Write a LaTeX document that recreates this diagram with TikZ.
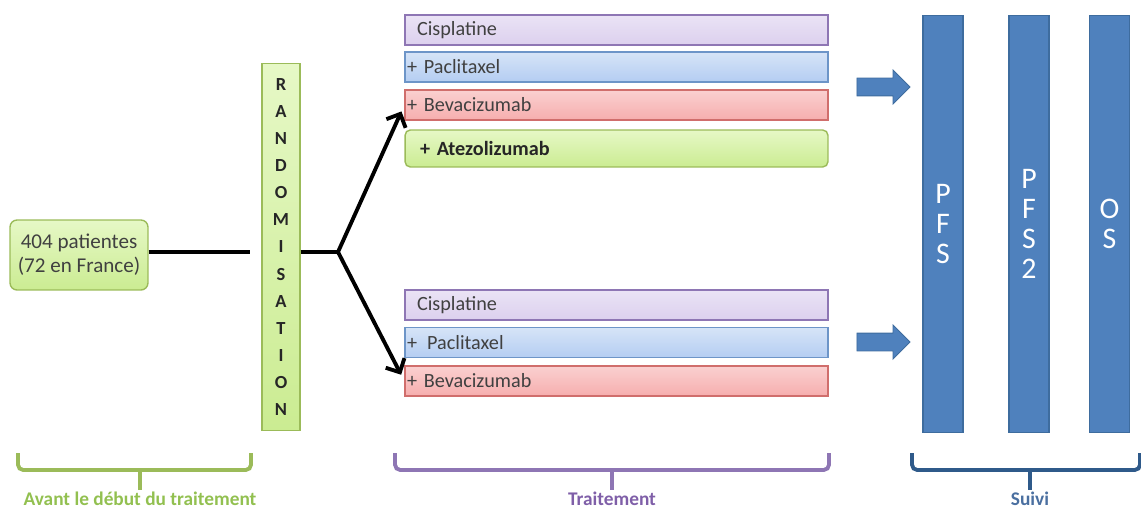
\documentclass[tikz,border=0pt]{standalone}
\usepackage{fontspec}
\setmainfont{Carlito}
\usetikzlibrary{arrows.meta,shapes.arrows}

\definecolor{vertbord}{HTML}{9BBB59}
\definecolor{verthaut}{HTML}{E6F8C6}
\definecolor{vertbas}{HTML}{CBEC92}
\definecolor{violbord}{HTML}{8E76B4}
\definecolor{violhaut}{HTML}{EAE3F5}
\definecolor{violbas}{HTML}{DCD0EE}
\definecolor{bleubord}{HTML}{6D95C8}
\definecolor{bleuhaut}{HTML}{D6E4F7}
\definecolor{bleubas}{HTML}{B4CDF2}
\definecolor{rougebord}{HTML}{D06E6C}
\definecolor{rougehaut}{HTML}{FAD0D0}
\definecolor{rougebas}{HTML}{F6AEAE}
\definecolor{barrefond}{HTML}{4F81BD}
\definecolor{barrebord}{HTML}{3E6C9E}
\definecolor{accbleu}{HTML}{2F5A8A}
\definecolor{etiqvert}{HTML}{92C050}
\definecolor{etiqviol}{HTML}{7F5FA8}
\definecolor{etiqbleu}{HTML}{4A6FA0}

\tikzset{
  patbox/.style={draw=vertbord, line width=0.8pt, rounded corners=4pt,
    top color=verthaut, bottom color=vertbas, align=center,
    minimum width=2.76cm, minimum height=1.4cm, text=black!75,
    font=\fontsize{12}{13.8}\selectfont},
  randbox/.style={draw=vertbord, line width=0.8pt,
    top color=verthaut, bottom color=vertbas, align=center,
    minimum width=0.76cm, minimum height=7.34cm, text=black!85,
    font=\bfseries\fontsize{10.5}{15.4}\selectfont},
  boite/.style={line width=0.8pt, text width=8.38cm, align=left,
    inner xsep=0.04cm, inner ysep=0pt, minimum height=0.6cm, text=black!75,
    font=\fontsize{11.5}{12}\selectfont},
  cisbox/.style={boite, draw=violbord, top color=violhaut, bottom color=violbas},
  pacbox/.style={boite, draw=bleubord, top color=bleuhaut, bottom color=bleubas},
  bevbox/.style={boite, draw=rougebord, top color=rougehaut, bottom color=rougebas},
  atzbox/.style={boite, draw=vertbord, top color=verthaut, bottom color=vertbas,
    rounded corners=3pt, minimum height=0.74cm, text=black!85},
  lien/.style={line width=2.2pt, black},
  fleche/.style={lien, -{Straight Barb[length=6pt,width=12pt]}, shorten >=4pt},
  blocfleche/.style={single arrow, draw=barrebord, fill=barrefond, line width=0.5pt,
    minimum height=1.06cm, minimum width=0.66cm, inner sep=0.17cm,
    single arrow head extend=0.16cm},
  barre/.style={draw=barrebord, fill=barrefond, line width=0.6pt,
    minimum width=0.8cm, minimum height=8.36cm, align=center, text=white,
    font=\fontsize{17}{17}\selectfont},
  accolade/.style={line width=2.2pt, rounded corners=3pt, draw=#1},
  etiq/.style={font=\bfseries\fontsize{11}{12}\selectfont, inner ysep=1pt, below=0pt},
}

\begin{document}
\begin{tikzpicture}[x=0.02cm,y=-0.02cm]
\useasboundingbox (0,0) rectangle (1141,513);

% avant le traitement
\node[patbox] (pat) at (79,255) {404 patientes\\(72 en France)};
\node[randbox] (rand) at (281,247) {R\\A\\N\\D\\O\\M\\I\\S\\A\\T\\I\\O\\N};
\coordinate (jn) at (338,252);

\draw[lien, shorten >=6.5pt] (pat.east |- jn) -- (rand.west |- jn);
\draw[lien] (rand.east |- jn) -- (jn);

% bras A
\node[cisbox] (cisA) at (616.5,30) {\hspace*{0.2cm}Cisplatine};
\node[pacbox] (pacA) at (616.5,67) {+ Paclitaxel};
\node[bevbox] (bevA) at (616.5,105) {+ Bevacizumab};
\node[atzbox] (atzA) at (616.5,148.5) {\hspace*{0.26cm}\textbf{+ Atezolizumab}};

% bras B
\node[cisbox] (cisB) at (616.5,305) {\hspace*{0.2cm}Cisplatine};
\node[pacbox] (pacB) at (616.5,342.5) {+ \,Paclitaxel};
\node[bevbox] (bevB) at (616.5,381) {+ Bevacizumab};

\draw[fleche] (jn) -- (bevA.west);
\draw[fleche] (jn) -- (bevB.west);

% suivi
\node[blocfleche] (flA) at (879,87) {};
\node[blocfleche] (flB) at (879,342) {};

\node[barre] (pfs) at (943,224) {P\\F\\S};
\node[barre] (pfsdeux) at (1029,224) {P\\F\\S\\2};
\node[barre] (os) at (1109.5,224) {O\\S};

% accolades
\draw[accolade=vertbord] (18,453) -- (18,470) -- (251,470) -- (251,453);
\draw[accolade=vertbord] (140,470) -- (140,490) coordinate (tA);
\node[etiq, text=etiqvert] (labA) at (tA) {Avant le début du traitement};

\draw[accolade=violbord] (395,453) -- (395,470) -- (829,470) -- (829,453);
\draw[accolade=violbord] (612,470) -- (612,490) coordinate (tB);
\node[etiq, text=etiqviol] (labB) at (tB) {Traitement};

\draw[accolade=accbleu] (912,453) -- (912,470) -- (1140,470) -- (1140,453);
\draw[accolade=accbleu] (1030,470) -- (1030,490) coordinate (tC);
\node[etiq, text=etiqbleu] (labC) at (tC) {Suivi};

\end{tikzpicture}
\end{document}
